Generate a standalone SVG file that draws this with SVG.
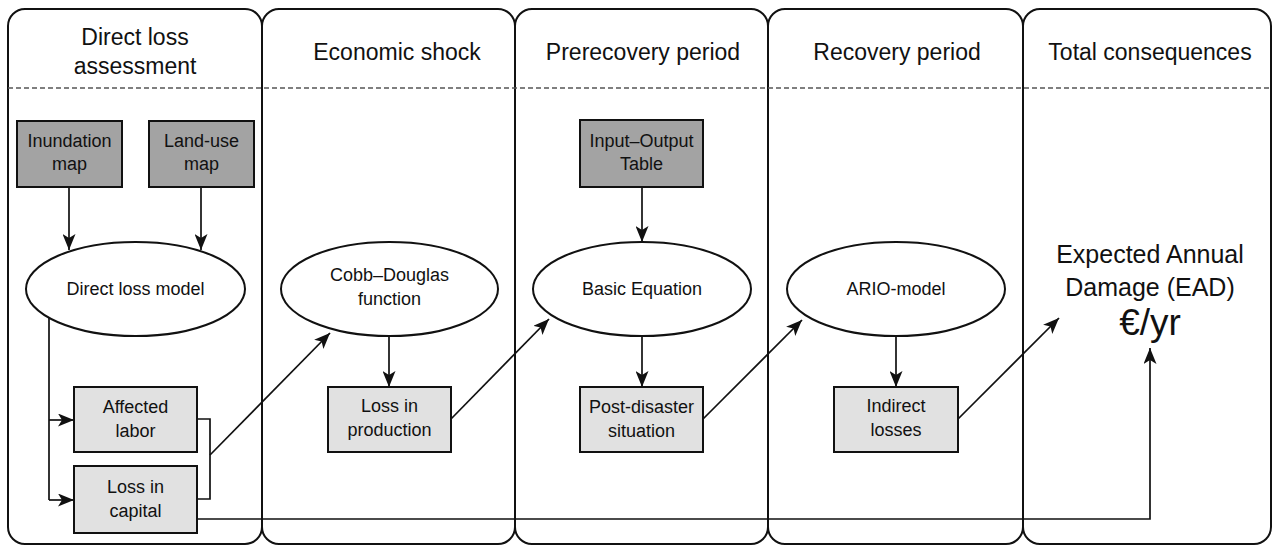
<svg xmlns="http://www.w3.org/2000/svg" width="1275" height="546" viewBox="0 0 1275 546">
<style>
.panel{fill:none;stroke:#111;stroke-width:2}
.hdr{font-family:"Liberation Sans",Arial,sans-serif;font-size:23px;fill:#111;text-anchor:middle}
.t{font-family:"Liberation Sans",Arial,sans-serif;font-size:18px;fill:#111;text-anchor:middle}
.big{font-family:"Liberation Sans",Arial,sans-serif;font-size:25px;fill:#111;text-anchor:middle}
.dark{fill:#a3a3a3;stroke:#111;stroke-width:2}
.light{fill:#e1e1e1;stroke:#111;stroke-width:2}
.ell{fill:#fff;stroke:#111;stroke-width:2}
.c{fill:none;stroke:#111;stroke-width:1.7}
.ca{fill:none;stroke:#111;stroke-width:1.7;marker-end:url(#ah)}
</style>
<defs>
<marker id="ah" markerUnits="userSpaceOnUse" markerWidth="17" markerHeight="13" refX="16" refY="6.5" orient="auto">
<path d="M0,0 L16,6.5 L0,13 L4,6.5 z" fill="#111"/>
</marker>
</defs>
<rect width="1275" height="546" fill="#fff"/>
<g id="panels">
<rect class="panel" x="8" y="9" width="254" height="535" rx="17"/>
<rect class="panel" x="262" y="9" width="253" height="535" rx="17"/>
<rect class="panel" x="515" y="9" width="253" height="535" rx="17"/>
<rect class="panel" x="768" y="9" width="255" height="535" rx="17"/>
<rect class="panel" x="1023" y="9" width="248" height="535" rx="17"/>
<line x1="8" y1="88" x2="1271" y2="88" stroke="#555" stroke-width="1.3" stroke-dasharray="5,3"/>
<text class="hdr" x="135" y="45">Direct loss</text>
<text class="hdr" x="135" y="74">assessment</text>
<text class="hdr" x="397" y="60">Economic shock</text>
<text class="hdr" x="643" y="60">Prerecovery period</text>
<text class="hdr" x="897" y="60">Recovery period</text>
<text class="hdr" x="1150" y="60">Total consequences</text>
</g>
<g id="connectors">
<path class="ca" d="M69,187 V250"/>
<path class="ca" d="M201,187 V250"/>
<path class="c" d="M49,318 V500"/>
<path class="ca" d="M49,420 H74"/>
<path class="ca" d="M49,500 H74"/>
<path class="c" d="M197,419 H210 V499 H197"/>
<path class="ca" d="M210,455 L330,333"/>
<path class="ca" d="M389,336 V387"/>
<path class="ca" d="M451,419 L549,319"/>
<path class="ca" d="M642,187 V242"/>
<path class="ca" d="M642,336 V387"/>
<path class="ca" d="M703,419 L802,320"/>
<path class="ca" d="M896,336 V387"/>
<path class="ca" d="M958,419 L1059,318"/>
<path class="ca" d="M197,519 H1150 V348"/>
</g>
<g id="inundation">
<rect class="dark" x="17" y="121" width="105" height="66"/>
<text class="t" x="69.5" y="147">Inundation</text>
<text class="t" x="69.5" y="170">map</text>
</g>
<g id="landuse">
<rect class="dark" x="149" y="121" width="105" height="66"/>
<text class="t" x="201.5" y="147">Land-use</text>
<text class="t" x="201.5" y="170">map</text>
</g>
<g id="directloss">
<ellipse class="ell" cx="135.5" cy="289" rx="109.5" ry="47"/>
<text class="t" x="135.5" y="295">Direct loss model</text>
</g>
<g id="labor">
<rect class="light" x="74" y="387" width="123" height="65"/>
<text class="t" x="135.5" y="413">Affected</text>
<text class="t" x="135.5" y="437">labor</text>
</g>
<g id="capital">
<rect class="light" x="74" y="466" width="123" height="67"/>
<text class="t" x="135.5" y="493">Loss in</text>
<text class="t" x="135.5" y="517">capital</text>
</g>
<g id="cobb">
<ellipse class="ell" cx="389.5" cy="289" rx="108.5" ry="47"/>
<text class="t" x="389.5" y="281">Cobb–Douglas</text>
<text class="t" x="389.5" y="305">function</text>
</g>
<g id="production">
<rect class="light" x="328" y="387" width="123" height="65"/>
<text class="t" x="389.5" y="412">Loss in</text>
<text class="t" x="389.5" y="436">production</text>
</g>
<g id="iotable">
<rect class="dark" x="580" y="120" width="123" height="67"/>
<text class="t" x="641.5" y="147">Input–Output</text>
<text class="t" x="641.5" y="170">Table</text>
</g>
<g id="basic">
<ellipse class="ell" cx="642" cy="289" rx="109" ry="47"/>
<text class="t" x="642" y="295">Basic Equation</text>
</g>
<g id="postdisaster">
<rect class="light" x="580" y="387" width="123" height="65"/>
<text class="t" x="641.5" y="413">Post-disaster</text>
<text class="t" x="641.5" y="437">situation</text>
</g>
<g id="ario">
<ellipse class="ell" cx="896" cy="289" rx="109" ry="47"/>
<text class="t" x="896" y="295">ARIO-model</text>
</g>
<g id="indirect">
<rect class="light" x="834" y="387" width="124" height="65"/>
<text class="t" x="896" y="412">Indirect</text>
<text class="t" x="896" y="436">losses</text>
</g>
<g id="ead">
<text class="big" x="1150" y="263">Expected Annual</text>
<text class="big" x="1150" y="296">Damage (EAD)</text>
<text class="big" x="1150" y="335" style="font-size:37px">€/yr</text>
</g>
</svg>
